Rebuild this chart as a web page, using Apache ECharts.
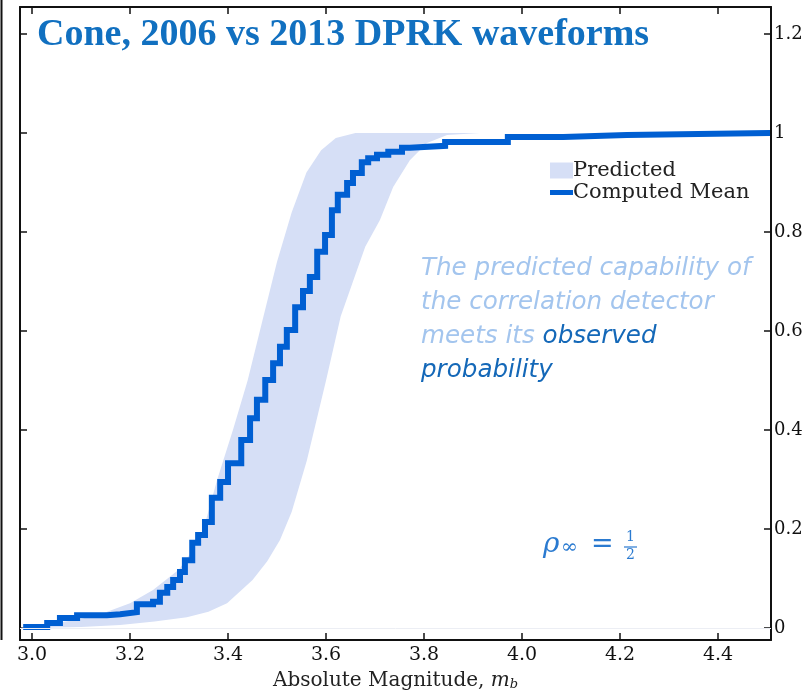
<!DOCTYPE html>
<html>
<head>
<meta charset="utf-8">
<title>Cone, 2006 vs 2013 DPRK waveforms</title>
<script src="https://cdn.jsdelivr.net/npm/echarts@6/dist/echarts.min.js"></script>
<style>
html, body { margin: 0; padding: 0; background: #fff; }
#chart { width: 804px; height: 692px; }
</style>
</head>
<body>
<div id="chart"></div>
<script>
// axis ticks
const xTicks = [3.0, 3.2, 3.4, 3.6, 3.8, 4.0, 4.2, 4.4];
const yTicks = [0, 0.2, 0.4, 0.6, 0.8, 1, 1.2];

// computed mean: each level starts at meanMag[i]
const meanMag = [2.982, 3.031, 3.057, 3.092, 3.153, 3.180, 3.214, 3.247, 3.261, 3.276,
  3.288, 3.302, 3.312, 3.327, 3.339, 3.353, 3.367, 3.384, 3.400, 3.427,
  3.445, 3.459, 3.476, 3.492, 3.506, 3.520, 3.537, 3.553, 3.567, 3.582,
  3.598, 3.612, 3.624, 3.643, 3.655, 3.673, 3.686, 3.704, 3.727, 3.755,
  3.771, 3.843, 3.971, 4.084, 4.214, 4.506];
const meanProb = [0.002, 0.010, 0.020, 0.026, 0.028, 0.032, 0.048, 0.053, 0.071, 0.083,
  0.097, 0.113, 0.137, 0.172, 0.188, 0.214, 0.263, 0.295, 0.333, 0.380,
  0.424, 0.461, 0.501, 0.535, 0.568, 0.602, 0.648, 0.681, 0.709, 0.760,
  0.794, 0.844, 0.875, 0.899, 0.919, 0.941, 0.949, 0.956, 0.962, 0.970,
  0.974, 0.982, 0.992, 0.996, 1.000, 1.000];

// predicted band, left (upper) edge
const upperMag = [2.976, 3.00, 3.05, 3.10, 3.145, 3.20, 3.247, 3.30, 3.33, 3.35,
  3.378, 3.41, 3.44, 3.47, 3.50, 3.53, 3.56, 3.59, 3.62, 3.66];
const upperProb = [0.0, 0.004, 0.010, 0.018, 0.030, 0.050, 0.077, 0.118, 0.160, 0.200,
  0.300, 0.400, 0.500, 0.620, 0.740, 0.840, 0.920, 0.965, 0.990, 1.0];
// predicted band, right (lower) edge
const lowerMag = [3.00, 3.10, 3.18, 3.25, 3.316, 3.36, 3.398, 3.45, 3.48, 3.506,
  3.53, 3.561, 3.60, 3.63, 3.655, 3.68, 3.71, 3.737, 3.771, 3.806, 3.847, 3.914];
const lowerProb = [0.0, 0.002, 0.006, 0.013, 0.022, 0.033, 0.050, 0.097, 0.135, 0.178,
  0.235, 0.339, 0.500, 0.630, 0.700, 0.770, 0.824, 0.891, 0.945, 0.980, 0.996, 1.0];

const LINE = '#005fd2';
const BAND = '#d6dff6';
const AXIS = '#111';
const RHO = '#2a7ad0';

const chart = echarts.init(document.getElementById('chart'));

const meanData = meanMag.map((m, i) => [m, meanProb[i]]);
const bandPts = upperMag.map((m, i) => [m, upperProb[i]])
  .concat(lowerMag.map((m, i) => [m, lowerProb[i]]).reverse());

const serifLabel = { fontFamily: 'DejaVu Serif', fontSize: 18, color: AXIS };

const option = {
  animation: false,
  backgroundColor: '#fff',
  grid: { left: 20, right: 33, top: 7, bottom: 52, outerBoundsMode: 'none' },
  legend: {
    orient: 'vertical',
    left: 545,
    top: 155,
    itemWidth: 23,
    itemHeight: 16,
    itemGap: 1,
    textStyle: { fontFamily: 'DejaVu Serif', fontSize: 21, color: '#222', lineHeight: 20, padding: [0, 0, 0, -5] },
    data: [
      { name: 'Predicted', icon: 'rect' },
      { name: 'Computed Mean', icon: 'path://M0,0H23V5H0Z' },
    ],
  },
  xAxis: [
    {
      type: 'value',
      min: 2.9755,
      max: 4.508,
      name: 'Absolute Magnitude, {i|m}{s|b}',
      nameLocation: 'middle',
      nameGap: 30,
      nameTextStyle: {
        fontFamily: 'DejaVu Serif', fontSize: 20, color: '#222',
        rich: {
          i: { fontFamily: 'DejaVu Serif', fontStyle: 'italic', fontSize: 20, color: '#222' },
          s: { fontFamily: 'DejaVu Serif', fontStyle: 'italic', fontSize: 13, color: '#222', padding: [8, 0, 0, 0] },
        },
      },
      splitLine: { show: false },
      axisLine: { onZero: false, lineStyle: { color: AXIS, width: 2 } },
      axisTick: { inside: true, length: 7, customValues: xTicks, lineStyle: { color: AXIS, width: 1.5 } },
      axisLabel: { customValues: xTicks, margin: 6, formatter: (v) => v.toFixed(1), ...serifLabel, fontSize: 19 },
    },
    {
      type: 'value',
      position: 'top',
      min: 2.9755,
      max: 4.508,
      splitLine: { show: false },
      axisLine: { onZero: false, lineStyle: { color: AXIS, width: 2 } },
      axisTick: { inside: true, length: 7, customValues: xTicks, lineStyle: { color: AXIS, width: 1.5 } },
      axisLabel: { show: false },
    },
  ],
  yAxis: [
    {
      type: 'value',
      position: 'right',
      min: -0.0242,
      max: 1.2545,
      splitLine: { show: false },
      axisLine: { show: true, onZero: false, lineStyle: { color: AXIS, width: 2 } },
      axisTick: { show: true, inside: true, length: 7, customValues: yTicks, lineStyle: { color: AXIS, width: 1.5 } },
      axisLabel: { customValues: yTicks, margin: 3, formatter: (v) => String(v), ...serifLabel },
    },
    {
      type: 'value',
      position: 'left',
      min: -0.0242,
      max: 1.2545,
      splitLine: { show: false },
      axisLine: { show: true, onZero: false, lineStyle: { color: AXIS, width: 2 } },
      axisTick: { show: true, inside: true, length: 7, customValues: yTicks, lineStyle: { color: AXIS, width: 1.5 } },
      axisLabel: { show: false },
    },
  ],
  series: [
    {
      name: 'Predicted',
      type: 'custom',
      silent: true,
      z: 1,
      itemStyle: { color: BAND },
      data: [[3.5, 0.5]],
      renderItem: (params, api) => ({
        type: 'polygon',
        shape: { points: bandPts.map((p) => api.coord(p)) },
        style: { fill: BAND },
      }),
      markLine: {
        silent: true,
        symbol: 'none',
        label: { show: false },
        lineStyle: { color: '#eceef4', width: 1, type: 'solid' },
        data: [{ yAxis: 0 }],
      },
    },
    {
      name: 'Computed Mean',
      type: 'line',
      step: 'end',
      z: 3,
      showSymbol: false,
      itemStyle: { color: LINE },
      lineStyle: { color: LINE, width: 6, join: 'miter' },
      data: meanData,
    },
  ],
  graphic: [
    {
      type: 'text', left: 37, top: 16,
      style: {
        text: 'Cone, 2006 vs 2013 DPRK waveforms',
        font: 'bold 38px "Liberation Serif"',
        fill: '#1170c0',
      },
    },
    {
      type: 'text', left: 421, top: 256,
      style: {
        text: '{a|The predicted capability of}\n{a|the correlation detector}\n{a|meets its }{b|observed}\n{b|probability}',
        rich: {
          a: { fontFamily: 'DejaVu Sans', fontStyle: 'italic', fontSize: 24.6, lineHeight: 34, fill: '#a3c5ee' },
          b: { fontFamily: 'DejaVu Sans', fontStyle: 'italic', fontSize: 24.6, lineHeight: 34, fill: '#1468b8' },
        },
      },
    },
    {
      type: 'group',
      children: [
        { type: 'text', x: 543, y: 531, style: { text: 'ρ', font: 'italic 28px "DejaVu Serif"', fill: RHO } },
        { type: 'text', x: 561, y: 538, style: { text: '∞', font: '20px "DejaVu Serif"', fill: RHO } },
        { type: 'text', x: 591, y: 531, style: { text: '=', font: '27px "DejaVu Serif"', fill: RHO } },
        { type: 'text', x: 626, y: 530, style: { text: '1', font: '14px "DejaVu Serif"', fill: RHO } },
        { type: 'line', shape: { x1: 624, y1: 547, x2: 637, y2: 547 }, style: { stroke: RHO, lineWidth: 1.2 } },
        { type: 'text', x: 626, y: 548, style: { text: '2', font: '14px "DejaVu Serif"', fill: RHO } },
      ],
    },
    {
      type: 'line', shape: { x1: 1.5, y1: 0, x2: 1.5, y2: 640 },
      style: { stroke: AXIS, lineWidth: 2 },
    },
  ],
};

chart.setOption(option);
</script>
</body>
</html>
